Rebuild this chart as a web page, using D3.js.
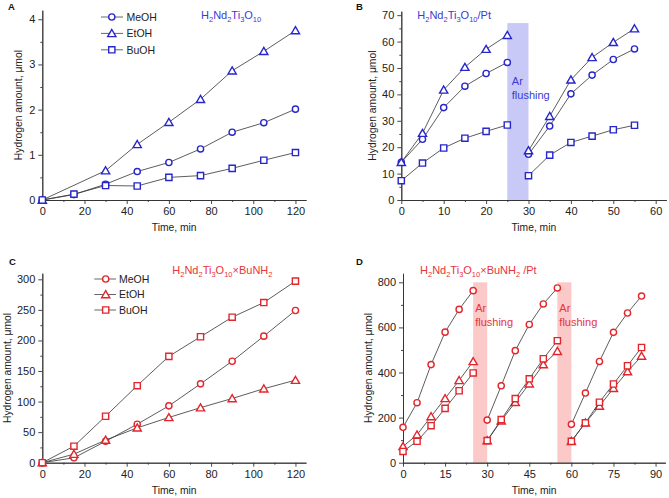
<!DOCTYPE html>
<html>
<head>
<meta charset="utf-8">
<script src="https://cdn.jsdelivr.net/npm/d3@7"></script>
<style>
  html, body { margin: 0; padding: 0; background: #fff; }
  svg { display: block; }
</style>
</head>
<body>
<svg id="chart" width="669" height="498"></svg>
<script>
// ---------- DATA ----------
const timeA = [0, 15, 30, 45, 60, 75, 90, 105, 120];
const aMeOH = [0, 0.12, 0.35, 0.63, 0.83, 1.13, 1.50, 1.71, 2.01];
const aEtOH = [0, null, 0.65, 1.23, 1.72, 2.23, 2.86, 3.29, 3.75];
const aBuOH = [0, 0.13, 0.32, 0.31, 0.50, 0.54, 0.70, 0.88, 1.05];

const timeB = [0, 5, 10, 15, 20, 25, 30, 35, 40, 45, 50, 55];
const bMeOH = [14.3, 23.0, 35.0, 43.1, 47.9, 52.1, 17.3, 28.0, 40.2, 47.3, 53.2, 57.2];
const bEtOH = [14.3, 25.3, 41.7, 50.3, 57.1, 62.4, 18.7, 31.7, 45.5, 54.0, 59.7, 64.9];
const bBuOH = [7.3, 14.0, 19.7, 23.4, 26.0, 28.4, 9.2, 17.0, 21.8, 24.2, 26.6, 28.3];
const flushB = [[25, 30]];

const timeC = [0, 15, 30, 45, 60, 75, 90, 105, 120];
const cMeOH = [0, 8, 35, 63, 93, 129, 166, 207, 249];
const cEtOH = [0, 14, 37, 57, 74, 90, 105, 121, 135];
const cBuOH = [0, 27, 76, 126, 174, 206, 238, 262, 297];

const timeD = [0, 5, 10, 15, 20, 25, 30, 35, 40, 45, 50, 55, 60, 65, 70, 75, 80, 85];
const dMeOH = [157, 266, 435, 579, 680, 763, 189, 341, 497, 613, 704, 775, 170, 309, 449, 578, 664, 739];
const dEtOH = [72, 124, 205, 285, 365, 449, 98, 186, 268, 350, 435, 494, 95, 177, 251, 330, 404, 473];
const dBuOH = [50, 95, 164, 241, 319, 398, 98, 191, 284, 372, 461, 541, 95, 177, 268, 349, 430, 511];
const flushD = [[25, 30], [55, 60]];

const seriesNames = ["MeOH", "EtOH", "BuOH"];
const seriesSymbols = ["circle", "triangle", "square"];

const ticksA_x = [0, 20, 40, 60, 80, 100, 120];
const ticksA_y = [0, 1, 2, 3, 4];
const ticksB_x = [0, 10, 20, 30, 40, 50, 60];
const ticksB_y = [0, 10, 20, 30, 40, 50, 60, 70];
const ticksC_x = [0, 20, 40, 60, 80, 100, 120];
const ticksC_y = [0, 50, 100, 150, 200, 250, 300];
const ticksD_x = [0, 15, 30, 45, 60, 75, 90];
const ticksD_y = [0, 200, 400, 600, 800];

const xTitle = "Time, min";
const yTitle = "Hydrogen amount, \u03bcmol";
const bandLabel = ["Ar", "flushing"];

// ---------- STYLE ----------
const FONT = "'Liberation Sans', Arial, sans-serif";
const BLUE = "#2626cc";
const BLUE_TXT = "#3a3ad6";
const BLUE_BAND = "#c9c9f7";
const RED = "#e2262c";
const RED_TXT = "#e8343a";
const RED_BAND = "#fcc9c9";
const LINE = "#333";

const svg = d3.select("#chart");

function markerPath(type) {
  if (type === "circle") {
    return "M3.1,0A3.1,3.1 0 1,1 -3.1,0A3.1,3.1 0 1,1 3.1,0Z";
  } else if (type === "square") {
    return "M-3.1,-3.1H3.1V3.1H-3.1Z";
  } else {
    return "M0,-3.9L4.1,3.2L-4.1,3.2Z";
  }
}

function split(times, vals, flush) {
  const segs = [];
  let cur = [];
  for (let i = 0; i < times.length; i++) {
    if (vals[i] === null) continue;
    if (cur.length) {
      const pt = cur[cur.length - 1][0];
      if (flush.some(f => pt <= f[0] && times[i] >= f[1])) {
        segs.push(cur); cur = [];
      }
    }
    cur.push([times[i], vals[i]]);
  }
  if (cur.length) segs.push(cur);
  return segs;
}

function panel(cfg) {
  const g = svg.append("g");
  const x = d3.scaleLinear().domain(cfg.xDomain).range(cfg.xRange);
  const y = d3.scaleLinear().domain(cfg.yDomain).range(cfg.yRange);

  // flushing bands
  (cfg.flush || []).forEach(f => {
    g.append("rect")
      .attr("x", x(f[0])).attr("width", x(f[1]) - x(f[0]))
      .attr("y", y(cfg.bandTop)).attr("height", y(0) - y(cfg.bandTop))
      .attr("fill", cfg.bandColor);
    const t = g.append("text")
      .attr("font-family", FONT).attr("font-size", 11)
      .attr("fill", cfg.txtColor);
    t.append("tspan").attr("x", x(f[0]) + cfg.bandTxtDx).attr("y", cfg.bandTxtY).text(bandLabel[0]);
    t.append("tspan").attr("x", x(f[0]) + cfg.bandTxtDx).attr("y", cfg.bandTxtY + 14).text(bandLabel[1]);
  });

  // axes
  const xr = cfg.xRange, yr = cfg.yRange;
  const axisX = g.append("g").attr("transform", `translate(0,${yr[0]})`)
    .call(d3.axisBottom(x).tickValues(cfg.xTicks).tickSize(4).tickSizeOuter(0).tickFormat(d3.format("d")));
  const axisXm = g.append("g").attr("transform", `translate(0,${yr[0]})`)
    .call(d3.axisBottom(x).tickValues(cfg.xMinor).tickSize(2).tickSizeOuter(0).tickFormat(""));
  const axisY = g.append("g").attr("transform", `translate(${xr[0]},0)`)
    .call(d3.axisLeft(y).tickValues(cfg.yTicks).tickSize(4).tickSizeOuter(0).tickFormat(d3.format("d")));
  const axisYm = g.append("g").attr("transform", `translate(${xr[0]},0)`)
    .call(d3.axisLeft(y).tickValues(cfg.yMinor).tickSize(2).tickSizeOuter(0).tickFormat(""));
  [axisX, axisXm, axisY, axisYm].forEach(a => {
    a.selectAll("path").attr("stroke", LINE).attr("stroke-width", 0.9);
    a.selectAll("line").attr("stroke", LINE).attr("stroke-width", 0.9);
    a.selectAll("text").attr("font-family", FONT).attr("font-size", 11).attr("fill", "#222");
  });
  axisX.selectAll("text").attr("dy", "0.75em").attr("y", 7);
  axisY.selectAll("text").attr("x", -7);

  // axis titles
  g.append("text").attr("x", (xr[0] + xr[1]) / 2).attr("y", yr[0] + 31)
    .attr("text-anchor", "middle").attr("font-family", FONT).attr("font-size", 10.3)
    .attr("fill", "#222").text(xTitle);
  g.append("text")
    .attr("transform", `translate(${cfg.yTitleX},${(yr[0] + yr[1]) / 2}) rotate(-90)`)
    .attr("text-anchor", "middle").attr("dominant-baseline", "central")
    .attr("font-family", FONT).attr("font-size", 10.3).attr("fill", "#222").text(yTitle);

  // panel letter
  g.append("text").attr("x", cfg.letterPos[0]).attr("y", cfg.letterPos[1])
    .attr("font-family", FONT).attr("font-size", 9.5).attr("font-weight", "bold")
    .attr("fill", "#111").text(cfg.letter);

  // chemical title
  const tt = g.append("text").attr("x", cfg.titlePos[0]).attr("y", cfg.titlePos[1])
    .attr("font-family", FONT).attr("font-size", 11).attr("fill", cfg.txtColor);
  cfg.titleParts.forEach(p => {
    const s = tt.append("tspan").text(p[0]);
    if (p[1] === "sub") s.attr("font-size", 7.5).attr("dy", 3);
    else if (p[1] === "up") s.attr("dy", -3);
  });

  // series
  const line = d3.line().x(d => x(d[0])).y(d => y(d[1]));
  cfg.series.forEach((vals, si) => {
    const segs = split(cfg.times, vals, cfg.flush || []);
    segs.forEach(seg => {
      g.append("path").attr("d", line(seg)).attr("fill", "none")
        .attr("stroke", LINE).attr("stroke-width", 0.8);
    });
    segs.flat().forEach(p => {
      g.append("path").attr("d", markerPath(seriesSymbols[si]))
        .attr("transform", `translate(${x(p[0])},${y(p[1])})`)
        .attr("fill", "#fff").attr("stroke", cfg.color).attr("stroke-width", 1.4);
    });
  });

  // legend
  if (cfg.legend) {
    const L = cfg.legend;
    seriesNames.forEach((n, i) => {
      const cy = L.y0 + i * L.dy;
      g.append("line").attr("x1", L.x1).attr("x2", L.x2).attr("y1", cy).attr("y2", cy)
        .attr("stroke", "#555").attr("stroke-width", 0.9);
      g.append("path").attr("d", markerPath(seriesSymbols[i]))
        .attr("transform", `translate(${L.xm},${cy})`)
        .attr("fill", "#fff").attr("stroke", cfg.color).attr("stroke-width", 1.4);
      g.append("text").attr("x", L.xt).attr("y", cy).attr("dy", "0.36em")
        .attr("font-family", FONT).attr("font-size", 10.5).attr("fill", "#222").text(n);
    });
  }
}

function minorTicks(maxv, step) {
  const out = [];
  for (let v = step; v <= maxv + 1e-9; v += step * 2) out.push(+v.toFixed(6));
  return out;
}

panel({
  letter: "A", letterPos: [8, 9.5],
  xDomain: [0, 125], xRange: [42.3, 306], yDomain: [0, 4.2], yRange: [200, 10.2],
  xTicks: ticksA_x, xMinor: minorTicks(125, 10), yTicks: ticksA_y, yMinor: minorTicks(4.2, 0.5),
  times: timeA, series: [aMeOH, aEtOH, aBuOH], color: BLUE, txtColor: BLUE_TXT,
  yTitleX: 18.7,
  titlePos: [201, 18.5],
  titleParts: [["H"], ["2", "sub"], ["Nd", "up"], ["2", "sub"], ["Ti", "up"], ["3", "sub"], ["O", "up"], ["10", "sub"]],
  legend: { x1: 101, x2: 123, xm: 111.8, xt: 126.5, y0: 17, dy: 16.4 }
});

panel({
  letter: "B", letterPos: [356, 9.5],
  xDomain: [0, 62.5], xRange: [401.3, 666.3], yDomain: [0, 71.5], yRange: [200, 11.2],
  xTicks: ticksB_x, xMinor: minorTicks(62, 5), yTicks: ticksB_y, yMinor: minorTicks(71, 5),
  times: timeB, series: [bMeOH, bEtOH, bBuOH], color: BLUE, txtColor: BLUE_TXT,
  flush: flushB, bandTop: 67, bandColor: BLUE_BAND, bandTxtDx: 4.5, bandTxtY: 84.5,
  yTitleX: 372.7,
  titlePos: [417.3, 19],
  titleParts: [["H"], ["2", "sub"], ["Nd", "up"], ["2", "sub"], ["Ti", "up"], ["3", "sub"], ["O", "up"], ["10", "sub"], ["/Pt", "up"]]
});

panel({
  letter: "C", letterPos: [9, 264.5],
  xDomain: [0, 125], xRange: [42.3, 306], yDomain: [0, 310], yRange: [462.7, 273.2],
  xTicks: ticksC_x, xMinor: minorTicks(125, 10), yTicks: ticksC_y, yMinor: minorTicks(310, 25),
  times: timeC, series: [cMeOH, cEtOH, cBuOH], color: RED, txtColor: RED_TXT,
  yTitleX: 7.5,
  titlePos: [172.3, 274],
  titleParts: [["H"], ["2", "sub"], ["Nd", "up"], ["2", "sub"], ["Ti", "up"], ["3", "sub"], ["O", "up"], ["10", "sub"], ["\u00d7BuNH", "up"], ["2", "sub"]],
  legend: { x1: 94.3, x2: 116, xm: 105.7, xt: 119, y0: 279, dy: 15.5 }
});

panel({
  letter: "D", letterPos: [356, 264.5],
  xDomain: [0, 93.5], xRange: [403, 665.4], yDomain: [0, 840], yRange: [462.7, 273.3],
  xTicks: ticksD_x, xMinor: minorTicks(93, 7.5), yTicks: ticksD_y, yMinor: minorTicks(840, 100),
  times: timeD, series: [dMeOH, dEtOH, dBuOH], color: RED, txtColor: RED_TXT,
  flush: flushD, bandTop: 800, bandColor: RED_BAND, bandTxtDx: 2, bandTxtY: 311.5,
  yTitleX: 368.7,
  titlePos: [420, 274],
  titleParts: [["H"], ["2", "sub"], ["Nd", "up"], ["2", "sub"], ["Ti", "up"], ["3", "sub"], ["O", "up"], ["10", "sub"], ["\u00d7BuNH", "up"], ["2", "sub"], [" /Pt", "up"]]
});
</script>
</body>
</html>
